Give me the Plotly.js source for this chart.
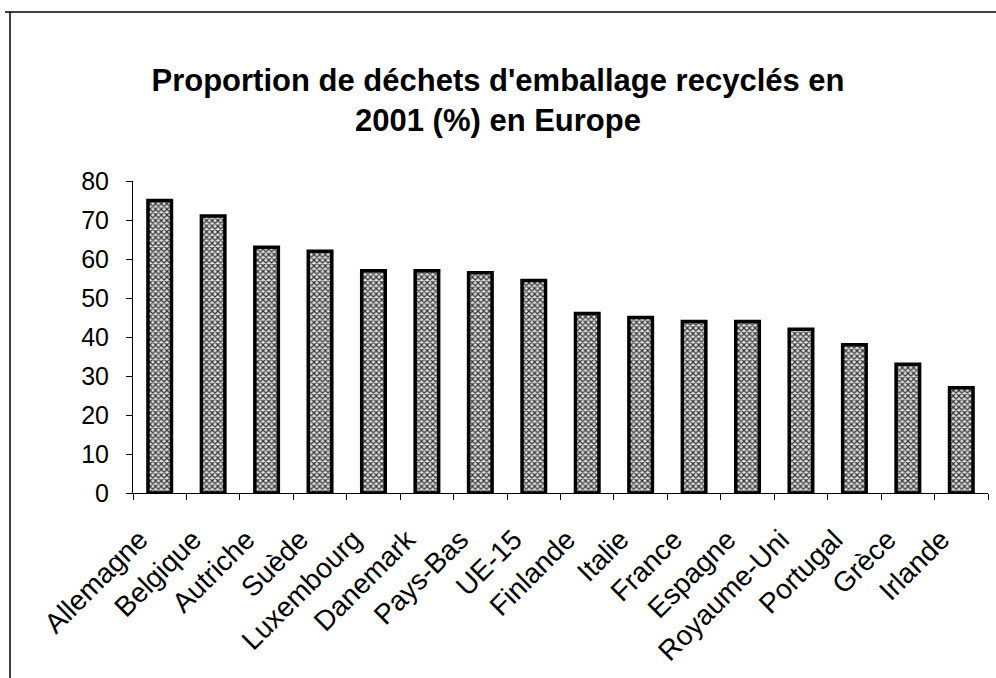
<!DOCTYPE html>
<html>
<head>
<meta charset="utf-8">
<script src="https://cdn.plot.ly/plotly-3.0.1.min.js"></script>
<style>
html,body{margin:0;padding:0;background:#fff;}
#chart{width:996px;height:678px;}
</style>
</head>
<body>
<div id="chart"></div>
<script>
const categories = ["Allemagne","Belgique","Autriche","Suède","Luxembourg","Danemark","Pays-Bas","UE-15","Finlande","Italie","France","Espagne","Royaume-Uni","Portugal","Grèce","Irlande"];
const values = [75, 71, 63, 62, 57, 57, 56.5, 54.5, 46, 45, 44, 44, 42, 38, 33, 27];
const yTicks = [0,10,20,30,40,50,60,70,80];
const titleText = "Proportion de déchets d'emballage recyclés en<br>2001 (%) en Europe";

const W = 996, H = 678;
const margin = {l:133, r:8, t:181, b:185, pad:0};
const pw = W - margin.l - margin.r, ph = H - margin.t - margin.b;
const px = v => (v - margin.l) / pw;
const py = v => (H - margin.b - v) / ph;

const trace = {
  type: 'bar',
  x: categories,
  y: values,
  marker: {
    color: '#d0d0d0',
    line: {color: '#000', width: 3.5},
    pattern: {shape: 'x', fgcolor: '#333', bgcolor: '#e0e0e0', size: 4, solidity: 0.5}
  },
  hoverinfo: 'x+y'
};

const layout = {
  width: W, height: H,
  margin: margin,
  paper_bgcolor: '#fff',
  plot_bgcolor: '#fff',
  font: {family: '"Liberation Sans", Arial, sans-serif', color: '#000'},
  showlegend: false,
  bargap: 0.56,
  title: {
    text: titleText,
    font: {size: 31, family: '"Liberation Sans", Arial, sans-serif', weight: 'bold', color: '#000'},
    x: 0.5, xref: 'container', xanchor: 'center',
    y: 1 - 91/H, yref: 'container', yanchor: 'top'
  },
  xaxis: {
    type: 'category',
    tickangle: -45,
    tickfont: {size: 28},
    showline: true, linecolor: '#000', linewidth: 1,
    ticks: 'outside', ticklen: 6, tickcolor: '#000',
    tickson: 'boundaries',
    ticklabelshift: -20,
    ticklabelstandoff: 18,
    showgrid: false, zeroline: false,
    fixedrange: true
  },
  yaxis: {
    range: [0, 80],
    tickvals: yTicks,
    tickfont: {size: 25},
    showline: true, linecolor: '#000', linewidth: 1,
    ticks: 'outside', ticklen: 6, tickcolor: '#000',
    ticklabelstandoff: 12,
    showgrid: false, zeroline: false,
    fixedrange: true
  },
  shapes: [
    {type:'line', xref:'paper', yref:'paper', x0:px(5), x1:px(996), y0:py(12), y1:py(12), line:{color:'#000', width:1.5}},
    {type:'line', xref:'paper', yref:'paper', x0:px(10), x1:px(10), y0:py(12), y1:py(678), line:{color:'#000', width:1.5}}
  ]
};

Plotly.newPlot('chart', [trace], layout, {displayModeBar: false, staticPlot: true});
</script>
</body>
</html>
